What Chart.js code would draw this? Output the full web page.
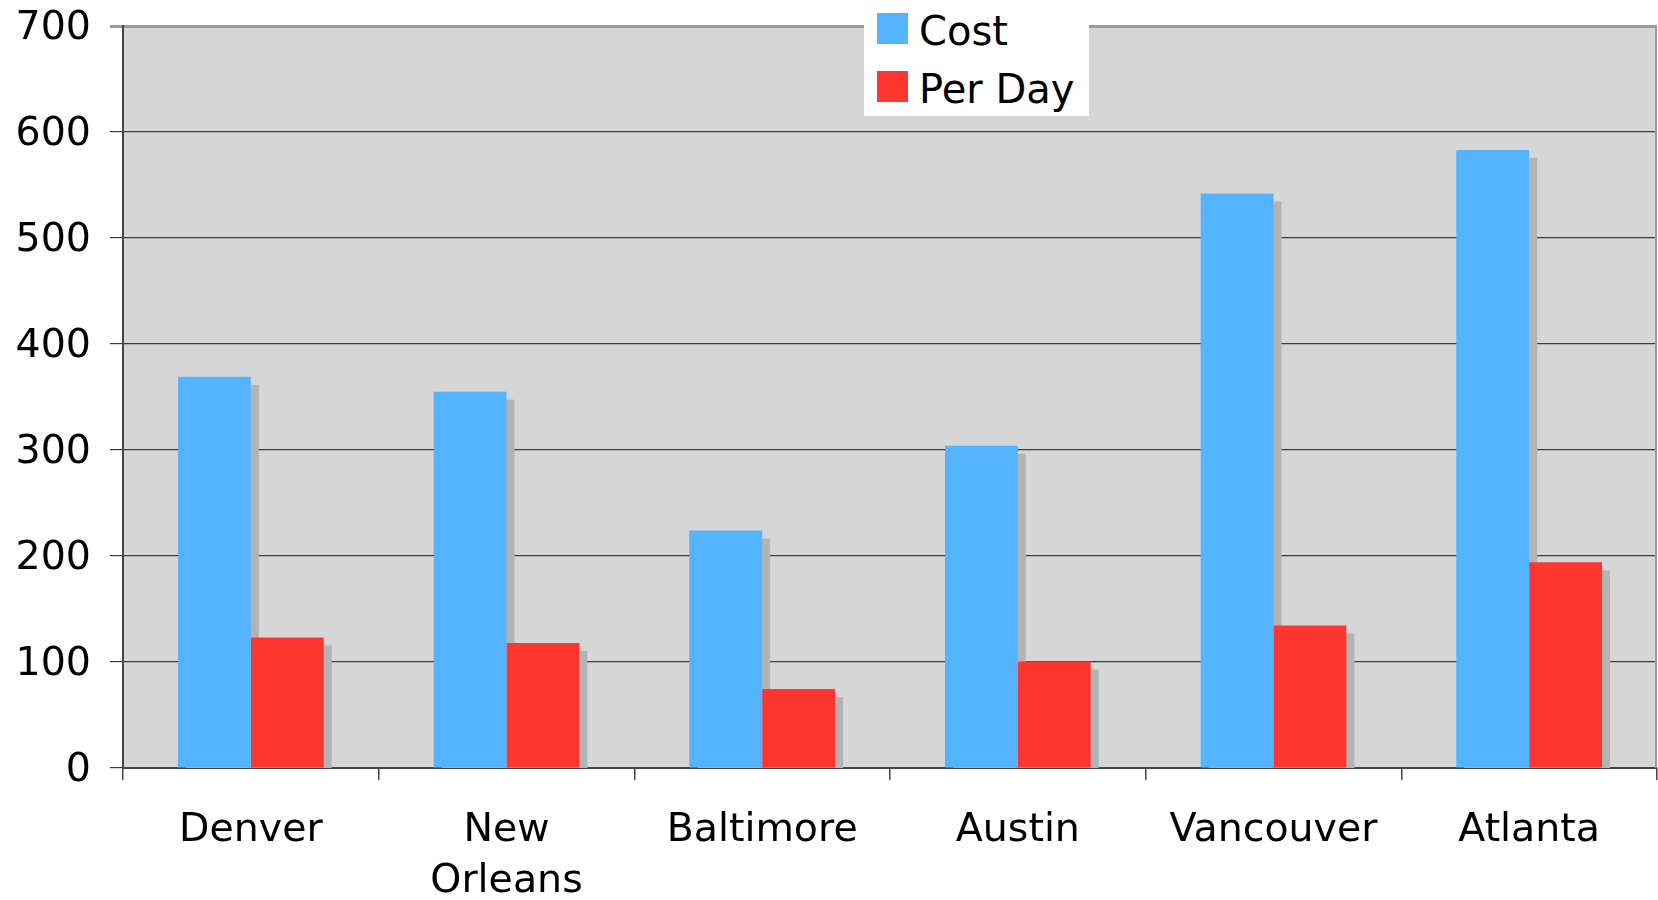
<!DOCTYPE html>
<html>
<head>
<meta charset="utf-8">
<script src="https://cdn.jsdelivr.net/npm/chart.js@4.4.1/dist/chart.umd.min.js"></script>
<style>
  html, body { margin: 0; padding: 0; background: #ffffff; }
  #wrap { position: relative; width: 1658px; height: 900px; }
  #c { position: absolute; left: 0; top: 0; }
  #legend { position: absolute; left: 864px; top: 0px; width: 225px; height: 116px; background: #ffffff;
            font-family: "DejaVu Sans", Verdana, sans-serif; font-size: 40px; color: #000; }
  .item { position: absolute; left: 13px; height: 38px; line-height: 38px; white-space: nowrap; }
  .sw { position: absolute; left: 0; width: 31px; height: 31px; }
  .tx { position: absolute; left: 42px; top: 0; }
</style>
</head>
<body>
<div id="wrap">
  <canvas id="c" width="1658" height="900"></canvas>
  <div id="legend"></div>
</div>
<script>
const categories = ['Denver', ['New', 'Orleans'], 'Baltimore', 'Austin', 'Vancouver', 'Atlanta'];
const costValues = [369, 355, 224, 304, 542, 583];
const perDayValues = [123, 118, 74.5, 100.5, 134.5, 194];
const seriesNames = ['Cost', 'Per Day'];
const seriesColors = ['#55b4ff', '#ff3530'];
const yTicks = [0, 100, 200, 300, 400, 500, 600, 700];

const FONT = '"DejaVu Sans", Verdana, sans-serif';

const plotBg = {
  id: 'plotBg',
  beforeDraw(chart) {
    const a = chart.chartArea, ctx = chart.ctx;
    ctx.save();
    ctx.fillStyle = '#d6d6d6';
    ctx.fillRect(a.left, a.top, a.right - a.left, a.bottom - a.top);
    ctx.restore();
  },
  afterDraw(chart) {
    const a = chart.chartArea, ctx = chart.ctx;
    ctx.save();
    ctx.strokeStyle = '#9a9a9a';
    ctx.lineWidth = 2;
    ctx.beginPath();
    ctx.moveTo(a.right - 1, a.top);
    ctx.lineTo(a.right - 1, a.bottom);
    ctx.stroke();
    ctx.restore();
  }
};

// gray drop shadow behind every bar, taken from the library's bar elements
const barShadow = {
  id: 'barShadow',
  beforeDatasetsDraw(chart) {
    const a = chart.chartArea, ctx = chart.ctx;
    const off = 8;
    ctx.save();
    ctx.beginPath();
    ctx.rect(a.left, a.top, a.right - a.left, a.bottom - a.top);
    ctx.clip();
    ctx.fillStyle = '#b3b3b3';
    chart.getSortedVisibleDatasetMetas().forEach(meta => {
      meta.data.forEach(bar => {
        const p = bar.getProps(['x', 'y', 'base', 'width'], true);
        ctx.fillRect(p.x - p.width / 2 + off, p.y + off, p.width, p.base - p.y);
      });
    });
    ctx.restore();
  }
};

const chart = new Chart(document.getElementById('c'), {
  type: 'bar',
  data: {
    labels: categories,
    datasets: [
      { label: seriesNames[0], data: costValues, backgroundColor: seriesColors[0] },
      { label: seriesNames[1], data: perDayValues, backgroundColor: seriesColors[1] }
    ]
  },
  options: {
    responsive: false,
    animation: false,
    devicePixelRatio: 1,
    layout: { padding: { top: 26, right: 1, left: 0, bottom: 0 } },
    datasets: { bar: { categoryPercentage: 0.57, barPercentage: 1.0, borderWidth: 0 } },
    plugins: { legend: { display: false }, tooltip: { enabled: false } },
    scales: {
      x: {
        offset: true,
        grid: { display: true, offset: true, drawOnChartArea: false, drawTicks: true, tickLength: 12, color: '#444444', lineWidth: 1.5 },
        border: { display: true, color: '#444444', width: 2 },
        ticks: { color: '#000', font: { family: FONT, size: 39.5, lineHeight: 1.3 }, padding: 25, maxRotation: 0, autoSkip: false },
        afterFit(scale) { scale.height = 132; scale.paddingLeft = 0; scale.paddingRight = 0; }
      },
      y: {
        min: 0, max: 700,
        afterBuildTicks(scale) { scale.ticks = yTicks.map(v => ({ value: v })); },
        grid: {
          drawTicks: true, tickLength: 13,
          color: (c) => (c.tick && c.tick.value === 700) ? '#999999' : '#3c3c3c',
          lineWidth: (c) => (c.tick && c.tick.value === 700) ? 3 : 1.2
        },
        border: { display: true, color: '#444444', width: 2 },
        ticks: { color: '#000', font: { family: FONT, size: 39.5 }, padding: 19, labelOffset: 3 },
        afterFit(scale) { scale.width = 123; scale.paddingTop = 0; scale.paddingBottom = 0; }
      }
    }
  },
  plugins: [plotBg, barShadow]
});

// HTML legend built from the series arrays
const legend = document.getElementById('legend');
const tops = [11.5, 69.5];
seriesNames.forEach((name, i) => {
  const it = document.createElement('div');
  it.className = 'item';
  it.style.top = tops[i] + 'px';
  const sw = document.createElement('div');
  sw.className = 'sw';
  sw.style.background = seriesColors[i];
  sw.style.top = '1px';
  const tx = document.createElement('span');
  tx.className = 'tx';
  tx.textContent = name;
  it.appendChild(sw);
  it.appendChild(tx);
  legend.appendChild(it);
});
</script>
</body>
</html>
